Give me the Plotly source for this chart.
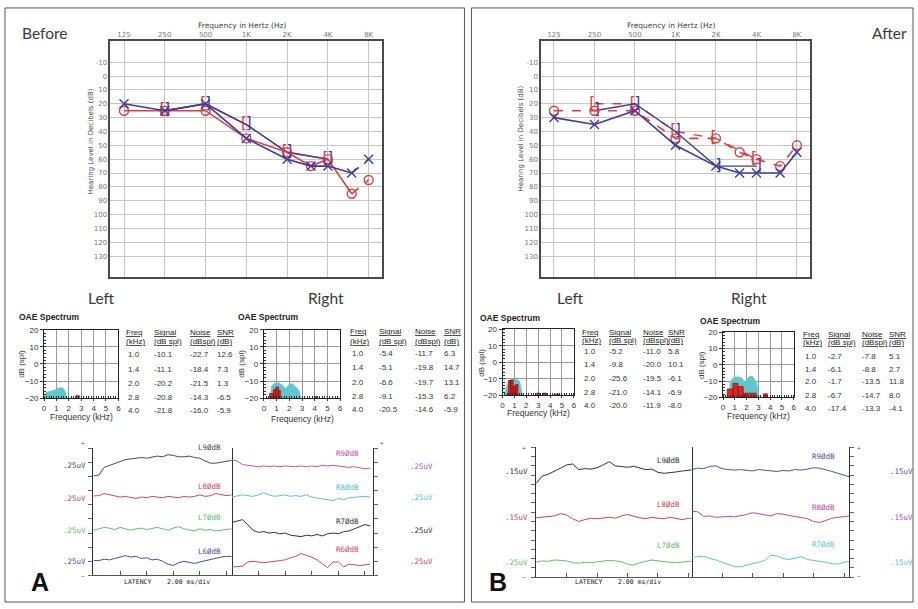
import plotly.graph_objects as go

W, H = 918, 609


def PX(x):
    return x / W


def PY(y):
    return 1 - y / H


# ---------------------------------------------------------------- data
AUD_FREQS = [125, 250, 500, 1000, 2000, 3000, 4000, 6000, 8000]
AUD_TICK_FREQS = [125, 250, 500, 1000, 2000, 4000, 8000]
AUD_TICK_TEXT = ['125', '250', '500', '1K', '2K', '4K', '8K']
AUD_DB_TICKS = [-10, 0, 10, 20, 30, 40, 50, 60, 70, 80, 90, 100, 110, 120, 130]

# Before (A)
A_RIGHT_AIR = [25, 25, 25, 45, 55, 65, 60, 85, 75]
A_LEFT_AIR = [20, 25, 20, 45, 60, 65, 65, 70, 60]
A_BONE_FREQS = [250, 500, 1000, 2000, 4000]
A_RIGHT_BONE = [25, 20, 35, 55, 60]
A_LEFT_BONE = [25, 20, 35, 55, 60]

# After (B)
B_RIGHT_AIR = [25, 25, 25, 45, 45, 55, 60, 65, 50]
B_LEFT_AIR = [30, 35, 25, 50, 65, 70, 70, 70, 55]
B_RIGHT_BONE_FREQS = [250, 500, 1000, 2000, 4000]
B_RIGHT_BONE = [20, 20, 40, 45, 60]
B_LEFT_BONE_FREQS = [250, 500, 1000, 2000, 4000]
B_LEFT_BONE = [25, 20, 40, 65, 65]

# OAE tables
OAE_FREQ = [1.0, 1.4, 2.0, 2.8, 4.0]
AL_SIGNAL = [-10.1, -11.1, -20.2, -20.8, -21.8]
AL_NOISE = [-22.7, -18.4, -21.5, -14.3, -16.0]
AL_SNR = [12.6, 7.3, 1.3, -6.5, -5.9]
AR_SIGNAL = [-5.4, -5.1, -6.6, -9.1, -20.5]
AR_NOISE = [-11.7, -19.8, -19.7, -15.3, -14.6]
AR_SNR = [6.3, 14.7, 13.1, 6.2, -5.9]
BL_SIGNAL = [-5.2, -9.8, -25.6, -21.0, -20.0]
BL_NOISE = [-11.0, -20.0, -19.5, -14.1, -11.9]
BL_SNR = [5.8, 10.1, -6.1, -6.9, -8.0]
BR_SIGNAL = [-2.7, -6.1, -1.7, -6.7, -17.4]
BR_NOISE = [-7.8, -8.8, -13.5, -14.7, -13.3]
BR_SNR = [5.1, 2.7, 11.8, 8.0, -4.1]

# OAE spectra (noise floor outline, kHz / dB spl)
AL_NOISE_F = [0.1, 0.2, 0.5, 0.8, 1.0, 1.2, 1.4, 1.6, 1.75, 1.8]
AL_NOISE_DB = [-17.5, -16.5, -16, -15.5, -14.5, -14, -13.8, -14.5, -17, -20]
AR_NOISE_F = [0.5, 0.6, 0.8, 1.0, 1.2, 1.4, 1.6, 1.7, 1.8, 2.0, 2.2, 2.4, 2.6, 2.8, 2.9]
AR_NOISE_DB = [-20, -13, -11.5, -11, -11.2, -12, -13.5, -14.5, -13.5, -11.8, -11.5, -12.5, -14, -16, -20]
BL_NOISE_F = [0.1, 0.3, 0.5, 0.7, 0.9, 1.1, 1.3, 1.45, 1.6, 1.7]
BL_NOISE_DB = [-20, -15, -11.5, -10.3, -10, -10.2, -10.5, -12, -16, -20]
BR_NOISE_F = [0.5, 0.6, 0.8, 1.0, 1.3, 1.6, 1.8, 1.9, 2.1, 2.3, 2.5, 2.7, 2.85, 2.95, 3.0]
BR_NOISE_DB = [-20, -10, -8.5, -7.5, -7.3, -8, -10, -10.3, -8, -6.8, -7, -9, -11, -14, -20]

# OAE emission bins (centre kHz, bin width kHz, level dB spl)
AL_DP_F = [2.7]
AL_DP_W = [0.3]
AL_DP_DB = [-18.6]
AR_DP_F = [0.6, 0.85, 1.05, 1.22, 4.1]
AR_DP_W = [0.3, 0.2, 0.2, 0.15, 0.25]
AR_DP_DB = [-17.3, -15, -13.5, -15.5, -19]
BL_DP_F = [0.6, 0.8, 1.0, 1.2, 3.0, 3.55, 4.6]
BL_DP_W = [0.2, 0.2, 0.2, 0.2, 0.25, 0.3, 0.3]
BL_DP_DB = [-11, -10.8, -14.3, -13.4, -18.6, -18.6, -19.2]
BR_DP_F = [0.6, 1.05, 1.5, 1.8, 2.35, 3.6]
BR_DP_W = [0.5, 0.42, 0.43, 0.2, 0.9, 0.34]
BR_DP_DB = [-14.8, -11.3, -13.3, -17.5, -17.4, -17.8]

# ABR waveforms (latency ms, display level in divisions)
ABR_T = [0.0, 0.4, 0.8, 1.2, 1.6, 2.0, 2.4, 2.8, 3.2, 3.6, 4.0, 4.4, 4.8, 5.2,
         5.6, 6.0, 6.4, 6.8, 7.2, 7.6, 8.0, 8.4, 8.8, 9.2, 9.6, 10.0, 10.4]
A_L90 = [7.05, 7.1, 7.65, 7.8, 7.95, 8.05, 8.2, 8.25, 8.3, 8.35, 8.3, 8.4, 8.45, 8.4,
         8.55, 8.5, 8.4, 8.4, 8.45, 8.35, 8.3, 8.1, 7.95, 7.95, 8.0, 8.1, 8.15]
A_L80 = [5.63, 5.65, 5.8, 5.7, 5.6, 5.55, 5.6, 5.5, 5.45, 5.55, 5.5, 5.6, 5.55, 5.5,
         5.6, 5.55, 5.5, 5.6, 5.55, 5.6, 5.7, 5.6, 5.65, 5.8, 5.75, 5.65, 5.7]
A_L70 = [3.2, 3.3, 3.4, 3.35, 3.25, 3.4, 3.3, 3.2, 3.3, 3.35, 3.25, 3.3, 3.4, 3.3,
         3.2, 3.35, 3.45, 3.3, 3.25, 3.15, 3.3, 3.2, 3.25, 3.15, 3.2, 3.25, 3.3]
A_L60 = [1.05, 1.05, 1.15, 1.1, 1.2, 1.3, 1.4, 1.3, 1.35, 1.2, 1.25, 1.1, 1.15, 1.0,
         0.8, 0.7, 0.9, 1.0, 0.95, 0.85, 0.95, 1.05, 1.1, 1.2, 1.3, 1.35, 1.35]
A_R90 = [8.2, 8.1, 7.85, 7.8, 7.75, 7.7, 7.75, 7.7, 7.75, 7.7, 7.75, 7.7, 7.7, 7.75,
         7.7, 7.75, 7.7, 7.8, 7.75, 7.8, 7.75, 7.7, 7.65, 7.7, 7.6, 7.55, 7.6]
A_R80 = [5.55, 5.6, 5.7, 5.65, 5.6, 5.7, 5.85, 5.7, 5.6, 5.65, 5.7, 5.6, 5.65, 5.6,
         5.7, 5.55, 5.5, 5.45, 5.35, 5.3, 5.45, 5.35, 5.5, 5.55, 5.6, 5.6, 5.55]
A_R70 = [3.75, 3.85, 3.95, 3.6, 3.2, 3.05, 3.1, 3.0, 3.05, 2.95, 3.0, 2.85, 2.8, 2.75,
         2.85, 2.8, 2.9, 2.8, 2.95, 3.0, 2.95, 3.1, 3.15, 3.3, 3.45, 3.6, 3.5]
A_R60 = [0.6, 0.6, 0.65, 0.95, 1.0, 0.95, 0.9, 0.95, 1.0, 1.05, 1.1, 1.25, 1.35, 1.55,
         1.45, 1.3, 1.1, 0.8, 0.55, 0.95, 0.95, 0.6, 0.8, 0.75, 0.7, 0.75, 0.8]
B_L90 = [10.1, 10.9, 11.1, 11.4, 11.75, 12.1, 12.2, 11.6, 11.7, 11.65, 11.8, 12.1, 12.45, 12.0,
         11.9, 11.85, 11.95, 11.8, 11.6, 11.65, 11.3, 11.2, 11.25, 11.35, 11.45, 11.55, 11.6]
B_L80 = [6.4, 6.45, 6.5, 6.6, 6.85, 6.7, 6.3, 6.0, 6.2, 6.35, 6.3, 6.4, 6.45, 6.35,
         6.6, 6.75, 6.55, 6.4, 6.3, 6.45, 6.35, 6.3, 6.45, 6.3, 6.2, 6.35, 6.3]
B_L70 = [1.6, 1.75, 1.7, 1.85, 1.8, 1.75, 1.55, 1.5, 1.6, 1.55, 1.65, 1.7, 1.8, 1.75,
         1.65, 1.4, 1.3, 1.55, 1.7, 1.85, 1.75, 1.65, 1.6, 1.55, 1.65, 1.7, 1.7]
B_R90 = [11.6, 11.75, 11.7, 11.95, 12.0, 11.7, 11.6, 11.55, 11.6, 11.5, 11.45, 11.6, 11.55, 11.45,
         11.4, 11.5, 11.45, 11.6, 11.55, 11.65, 11.8, 11.75, 11.6, 11.4, 11.2, 11.0, 10.8]
B_R80 = [7.1, 7.05, 6.55, 6.6, 6.45, 6.5, 6.55, 6.5, 6.6, 6.75, 6.95, 6.85, 6.7, 6.6,
         6.85, 6.8, 6.65, 6.55, 6.4, 6.3, 6.0, 5.9, 6.1, 6.35, 6.45, 6.55, 6.6]
B_R70 = [2.15, 2.2, 2.25, 2.0, 1.85, 1.6, 1.4, 1.15, 1.1, 1.3, 1.45, 1.6, 1.8, 2.35,
         2.3, 2.0, 1.9, 2.05, 2.2, 1.9, 1.8, 1.75, 1.6, 1.45, 1.4, 1.6, 1.7]

# ---------------------------------------------------------------- styles
RED = '#e23b3b'
BLUE = '#3b3ba0'
CYAN = '#5ec6cf'
DPRED = '#e8201c'
FONT = 'Liberation Sans'
LABEL_FONT = 'Lato'

fig = go.Figure()
layout = {}
annotations = []
shapes = []


def ann(x, y, text, size=8, color='#333', xa='center', ya='middle', family=FONT, angle=0):
    annotations.append(dict(x=PX(x), y=PY(y), xref='paper', yref='paper', text=text,
                            showarrow=False, xanchor=xa, yanchor=ya, textangle=angle,
                            font=dict(size=size, color=color, family=family)))


def axname(n, kind):
    return f'{kind}axis' if n == 1 else f'{kind}axis{n}'


def ref(n, kind):
    return kind if n == 1 else f'{kind}{n}'


# ---------------------------------------------------------------- audiograms
def audiogram(n, dom_x, dom_y, xr, title_x, ylab_x, ylab_y):
    layout[axname(n, 'x')] = dict(
        domain=[PX(dom_x[0]), PX(dom_x[1])], anchor=ref(n, 'y'), type='log', range=xr,
        side='top', tickvals=AUD_TICK_FREQS, ticktext=AUD_TICK_TEXT,
        tickfont=dict(size=7, color='#777', family='DejaVu Sans'),
        showgrid=True, gridcolor='#c6c6c6', gridwidth=1, showline=True,
        linecolor='#4a4a4a', linewidth=1.6, mirror=True, ticks='', zeroline=False)
    layout[axname(n, 'y')] = dict(
        domain=[PY(dom_y[1]), PY(dom_y[0])], anchor=ref(n, 'x'), range=[145, -25],
        tickvals=AUD_DB_TICKS, ticktext=[str(v) for v in AUD_DB_TICKS],
        tickfont=dict(size=7, color='#777', family='DejaVu Sans'),
        showgrid=True, gridcolor='#c6c6c6', gridwidth=1, showline=True,
        linecolor='#4a4a4a', linewidth=1.6, mirror=True, ticks='', zeroline=False)
    ann(title_x, 21.5, 'Frequency in Hertz (Hz)', size=7.5, color='#444', family='DejaVu Sans')
    ann(ylab_x, ylab_y, 'Hearing Level in Decibels (dB)', size=7, color='#444',
        family='DejaVu Sans', angle=-90)


def air_trace(n, freqs, vals, color, symbol, dash, dashed_tail):
    xr, yr = ref(n, 'x'), ref(n, 'y')
    main_f = freqs[:-1] if dashed_tail else freqs
    main_v = vals[:-1] if dashed_tail else vals
    fig.add_trace(go.Scatter(x=main_f, y=main_v, xaxis=xr, yaxis=yr, mode='lines',
                             line=dict(color=color, width=1.6, dash=dash), hoverinfo='skip'))
    if dashed_tail:
        fig.add_trace(go.Scatter(x=freqs[-2:], y=vals[-2:], xaxis=xr, yaxis=yr, mode='lines',
                                 line=dict(color=color, width=1.6, dash='dash'), hoverinfo='skip'))
    fig.add_trace(go.Scatter(x=freqs, y=vals, xaxis=xr, yaxis=yr, mode='markers',
                             marker=dict(symbol=symbol, size=9, color=color,
                                         line=dict(color=color, width=1.4)),
                             hoverinfo='skip'))


def bone_trace(n, freqs, vals, color, glyph, dash='solid'):
    xr, yr = ref(n, 'x'), ref(n, 'y')
    fig.add_trace(go.Scatter(x=freqs, y=vals, xaxis=xr, yaxis=yr, mode='lines+text',
                             text=[glyph] * len(freqs), textposition='middle center',
                             textfont=dict(size=15, color=color, family='DejaVu Sans'),
                             line=dict(color=color, width=1.4, dash=dash), hoverinfo='skip'))


audiogram(1, (109, 382), (38, 277), [1.9964, 4.0009], 241.7, 89, 140)
audiogram(2, (542, 812), (38, 277), [2.0009, 3.9971], 673, 521.5, 137)

# A
bone_trace(1, A_BONE_FREQS, A_RIGHT_BONE, RED, '[\u00a0')
bone_trace(1, A_BONE_FREQS, A_LEFT_BONE, BLUE, '\u00a0]')
air_trace(1, AUD_FREQS, A_RIGHT_AIR, RED, 'circle-open', 'solid', True)
air_trace(1, AUD_FREQS, A_LEFT_AIR, BLUE, 'x-thin-open', 'solid', True)
# B
bone_trace(2, B_RIGHT_BONE_FREQS, B_RIGHT_BONE, RED, '[\u00a0', 'dash')
bone_trace(2, B_LEFT_BONE_FREQS, B_LEFT_BONE, BLUE, '\u00a0]')
air_trace(2, AUD_FREQS, B_RIGHT_AIR, RED, 'circle-open', 'dash', False)
air_trace(2, AUD_FREQS, B_LEFT_AIR, BLUE, 'x-thin-open', 'solid', False)

# ---------------------------------------------------------------- OAE spectra
OAE_TICKS_X = [0, 1, 2, 3, 4, 5, 6]
OAE_TICKS_Y = [-20, -10, 0, 10, 20]


def oae(n, dom_x, dom_y, nf, ndb, dpf, dpw, dpdb, title_xy, ylab_x, xlab_y):
    layout[axname(n, 'x')] = dict(
        domain=[PX(dom_x[0]), PX(dom_x[1])], anchor=ref(n, 'y'), range=[0, 6],
        tickvals=OAE_TICKS_X, ticks='outside', ticklen=2, tickcolor='#333',
        minor=dict(dtick=0.2, ticks='inside', ticklen=2.5, tickcolor='#333', showgrid=False),
        showgrid=True, gridcolor='#9a9a9a', gridwidth=1, showline=True, linecolor='#222',
        linewidth=1, mirror=True, zeroline=False,
        tickfont=dict(size=8, color='#333', family=FONT))
    layout[axname(n, 'y')] = dict(
        domain=[PY(dom_y[1]), PY(dom_y[0])], anchor=ref(n, 'x'), range=[-20, 20],
        tickvals=OAE_TICKS_Y, ticks='outside', ticklen=3, tickcolor='#333',
        minor=dict(dtick=2, ticks='inside', ticklen=2, tickcolor='#333', showgrid=False),
        showgrid=True, gridcolor='#9a9a9a', gridwidth=1, showline=True, linecolor='#222',
        linewidth=1, mirror=True, zeroline=False,
        tickfont=dict(size=8, color='#333', family=FONT))
    xr, yr = ref(n, 'x'), ref(n, 'y')
    # noise floor polygon
    px_ = [nf[0]] + list(nf) + [nf[-1]]
    py_ = [-20] + list(ndb) + [-20]
    fig.add_trace(go.Scatter(x=px_, y=py_, xaxis=xr, yaxis=yr, mode='lines', fill='toself',
                             fillcolor=CYAN, line=dict(color=CYAN, width=0.5), hoverinfo='skip'))
    # emission bins as filled rectangles drawn on top
    bx, by = [], []
    for c, w, d in zip(dpf, dpw, dpdb):
        bx += [c - w / 2, c - w / 2, c + w / 2, c + w / 2, c - w / 2, None]
        by += [-20, d, d, -20, -20, None]
    fig.add_trace(go.Scatter(x=bx, y=by, xaxis=xr, yaxis=yr, mode='lines', fill='toself',
                             fillcolor=DPRED, line=dict(color='#8a1010', width=0.7),
                             hoverinfo='skip'))
    ann(title_xy[0], title_xy[1], '<b>OAE Spectrum</b>', size=8.5, color='#222', xa='left')
    ann(ylab_x, (dom_y[0] + dom_y[1]) / 2, 'dB (spl)', size=8, color='#333', angle=-90)
    ann((dom_x[0] + dom_x[1]) / 2, xlab_y, 'Frequency (kHz)', size=8.5, color='#333')


oae(3, (42.3, 117), (330.7, 400), AL_NOISE_F, AL_NOISE_DB, AL_DP_F, AL_DP_W, AL_DP_DB,
    (15, 318), 20, 419)
oae(4, (263.3, 340), (330.7, 400), AR_NOISE_F, AR_NOISE_DB, AR_DP_F, AR_DP_W, AR_DP_DB,
    (235, 318), 241, 421)
oae(5, (503.3, 575), (330, 397.3), BL_NOISE_F, BL_NOISE_DB, BL_DP_F, BL_DP_W, BL_DP_DB,
    (479, 319), 482, 415.5)
oae(6, (725, 796), (333.3, 399.3), BR_NOISE_F, BR_NOISE_DB, BR_DP_F, BR_DP_W, BR_DP_DB,
    (700, 322), 704, 418)


def table(cols_x, head_y, rows_y, signal, noise, snr):
    heads = [('Freq', '(kHz)'), ('Signal', '(dB spl)'), ('Noise', '(dBspl)'), ('SNR', '(dB)')]
    for cx, (h1, h2) in zip(cols_x, heads):
        ann(cx, head_y[0], f'<u>{h1}</u>', size=8, color='#222', xa='left')
        ann(cx, head_y[1], f'<u>{h2}</u>', size=8, color='#222', xa='left')
    for i, ry in enumerate(rows_y):
        vals = [OAE_FREQ[i], signal[i], noise[i], snr[i]]
        for j, (cx, v) in enumerate(zip(cols_x, vals)):
            ann(cx + (2 if j == 0 else 0), ry, f'{v:.1f}', size=8, color='#333', xa='left')


table([123, 151, 187, 214], (333, 343), (356, 370.5, 385, 399, 412.5),
      AL_SIGNAL, AL_NOISE, AL_SNR)
table([348, 377, 413, 442], (332.5, 342.7), (354.5, 369.3, 384.3, 398.3, 411.7),
      AR_SIGNAL, AR_NOISE, AR_SNR)
table([581.5, 608, 642, 668], (333, 341.7), (352.3, 365.7, 380, 394.3, 407.3),
      BL_SIGNAL, BL_NOISE, BL_SNR)
table([803, 829, 863, 890], (335, 343.3), (357.3, 370.7, 383.3, 397.3, 410.7),
      BR_SIGNAL, BR_NOISE, BR_SNR)


# ---------------------------------------------------------------- ABR
def abr_axes(n, dom_x, dom_y, xr, yr, yside):
    layout[axname(n, 'x')] = dict(
        domain=[PX(dom_x[0]), PX(dom_x[1])], anchor=ref(n, 'y'), range=xr,
        dtick=2, tick0=0, ticks='inside', ticklen=4, tickcolor='#555', showticklabels=False,
        showgrid=False, zeroline=False, showline=True, linecolor='#555', linewidth=1)
    layout[axname(n, 'y')] = dict(
        domain=[PY(dom_y[1]), PY(dom_y[0])], anchor=ref(n, 'x'), range=yr, side=yside,
        dtick=1, tick0=0, ticks='outside', ticklen=4, tickcolor='#666', showticklabels=False,
        showgrid=False, zeroline=False, showline=True, linecolor='#333', linewidth=1,
        mirror=(yside == 'left'))


def wave(n, vals, color):
    fig.add_trace(go.Scatter(x=ABR_T, y=vals, xaxis=ref(n, 'x'), yaxis=ref(n, 'y'),
                             mode='lines', line=dict(color=color, width=1), hoverinfo='skip'))


abr_axes(7, (92, 231), (451, 580), [0, 10.4], [0, 9], 'left')
abr_axes(8, (231, 373), (451, 580), [0, 10.6], [0, 9], 'right')
abr_axes(9, (537, 693.3), (450, 581.7), [0, 10.2], [0, 14], 'left')
abr_axes(10, (693.3, 852), (450, 581.7), [0, 10.35], [0, 14], 'right')

A_COLS = dict(L90='#4a4a4a', L80='#d2485a', L70='#5cc067', L60='#4a4aa8',
              R90='#c452a8', R80='#55c3d2', R70='#333333', R60='#d2485a')
B_COLS = dict(L90='#333333', L80='#d2404f', L70='#62c062',
              R90='#4f4fb0', R80='#c444a4', R70='#55c8d8')

wave(7, A_L90, A_COLS['L90'])
wave(7, A_L80, A_COLS['L80'])
wave(7, A_L70, A_COLS['L70'])
wave(7, A_L60, A_COLS['L60'])
wave(8, A_R90, A_COLS['R90'])
wave(8, A_R80, A_COLS['R80'])
wave(8, A_R70, A_COLS['R70'])
wave(8, A_R60, A_COLS['R60'])
wave(9, B_L90, B_COLS['L90'])
wave(9, B_L80, B_COLS['L80'])
wave(9, B_L70, B_COLS['L70'])
wave(10, B_R90, B_COLS['R90'])
wave(10, B_R80, B_COLS['R80'])
wave(10, B_R70, B_COLS['R70'])

MONO = 'DejaVu Sans Mono'
# A labels
for key, y in zip(['L90', 'L80', 'L70', 'L60'], [450, 489.5, 521, 556]):
    ann(222, y, key[0] + key[1] + '\u00d8dB', size=7.5, color=A_COLS[key], xa='right', family=MONO)
for key, y in zip(['R90', 'R80', 'R70', 'R60'], [456, 491, 525, 553.5]):
    ann(361, y, key[0] + key[1] + '\u00d8dB', size=7.5, color=A_COLS[key], xa='right', family=MONO)
for key, y in zip(['L90', 'L80', 'L70', 'L60'], [468, 501.7, 534.3, 566]):
    ann(86, y, '.25uV', size=7.5, color=A_COLS[key], xa='right', family=MONO)
for key, y in zip(['R90', 'R80', 'R70', 'R60'], [469, 501, 534.3, 566]):
    ann(408, y, '.25uV', size=7.5, color=A_COLS[key], xa='left', family=MONO)
# B labels
for key, y in zip(['L90', 'L80', 'L70'], [463.3, 508.3, 549.3]):
    ann(684, y, key[0] + key[1] + '\u00d8dB', size=7.5, color=B_COLS[key], xa='right', family=MONO)
for key, y in zip(['R90', 'R80', 'R70'], [459.3, 511, 548.3]):
    ann(840, y, key[0] + key[1] + '\u00d8dB', size=7.5, color=B_COLS[key], xa='right', family=MONO)
for key, y in zip(['L90', 'L80', 'L70'], [475, 521.7, 566.7]):
    ann(531, y, '.15uV' if key != 'L70' else '.25uV', size=7.5, color=B_COLS[key], xa='right', family=MONO)
for key, y in zip(['R90', 'R80', 'R70'], [475, 521.7, 566.7]):
    ann(891, y, '.15uV', size=7.5, color=B_COLS[key], xa='left', family=MONO)

for x, y, t in [(81, 445, '+'), (81, 580, '\u2013'), (382, 445, '+'),
                (525, 450, '+'), (525, 581, '\u2013'), (862, 450, '+'), (862, 580, '\u2013')]:
    ann(x, y, t, size=6, color='#555', family=MONO)

ann(166, 587, 'LATENCY&nbsp;&nbsp;&nbsp;&nbsp;2.00 ms/div', size=6.5, color='#222', family=MONO)
ann(619, 587, 'LATENCY&nbsp;&nbsp;&nbsp;&nbsp;2.00 ms/div', size=6.5, color='#222', family=MONO)

# ---------------------------------------------------------------- panel text
ann(18, 29, 'Before', size=15.5, color='#3a3a3a', xa='left', family=LABEL_FONT)
ann(912, 29, 'After', size=15.5, color='#3a3a3a', xa='right', family=LABEL_FONT)
ann(100, 298, 'Left', size=15.5, color='#3a3a3a', family=LABEL_FONT)
ann(326, 298, 'Right', size=15.5, color='#3a3a3a', family=LABEL_FONT)
ann(572, 298, 'Left', size=15.5, color='#3a3a3a', family=LABEL_FONT)
ann(751, 298, 'Right', size=15.5, color='#3a3a3a', family=LABEL_FONT)
ann(38, 587, '<b>A</b>', size=25, color='#111', family='Liberation Sans')
ann(499, 587, '<b>B</b>', size=25, color='#111', family='Liberation Sans')

for x0, x1 in [(3, 465), (472, 916)]:
    shapes.append(dict(type='rect', xref='paper', yref='paper', x0=PX(x0), x1=PX(x1),
                       y0=PY(607), y1=PY(4), line=dict(color='#555', width=1)))

fig.update_layout(
    width=W, height=H, autosize=False, margin=dict(l=0, r=0, t=0, b=0),
    paper_bgcolor='white', plot_bgcolor='white', showlegend=False,
    font=dict(family=FONT),
    annotations=annotations, shapes=shapes, **layout)

fig.write_html('out.html', config={'displayModeBar': False},
               post_script="document.body.style.margin='0';document.body.style.overflow='hidden';")
